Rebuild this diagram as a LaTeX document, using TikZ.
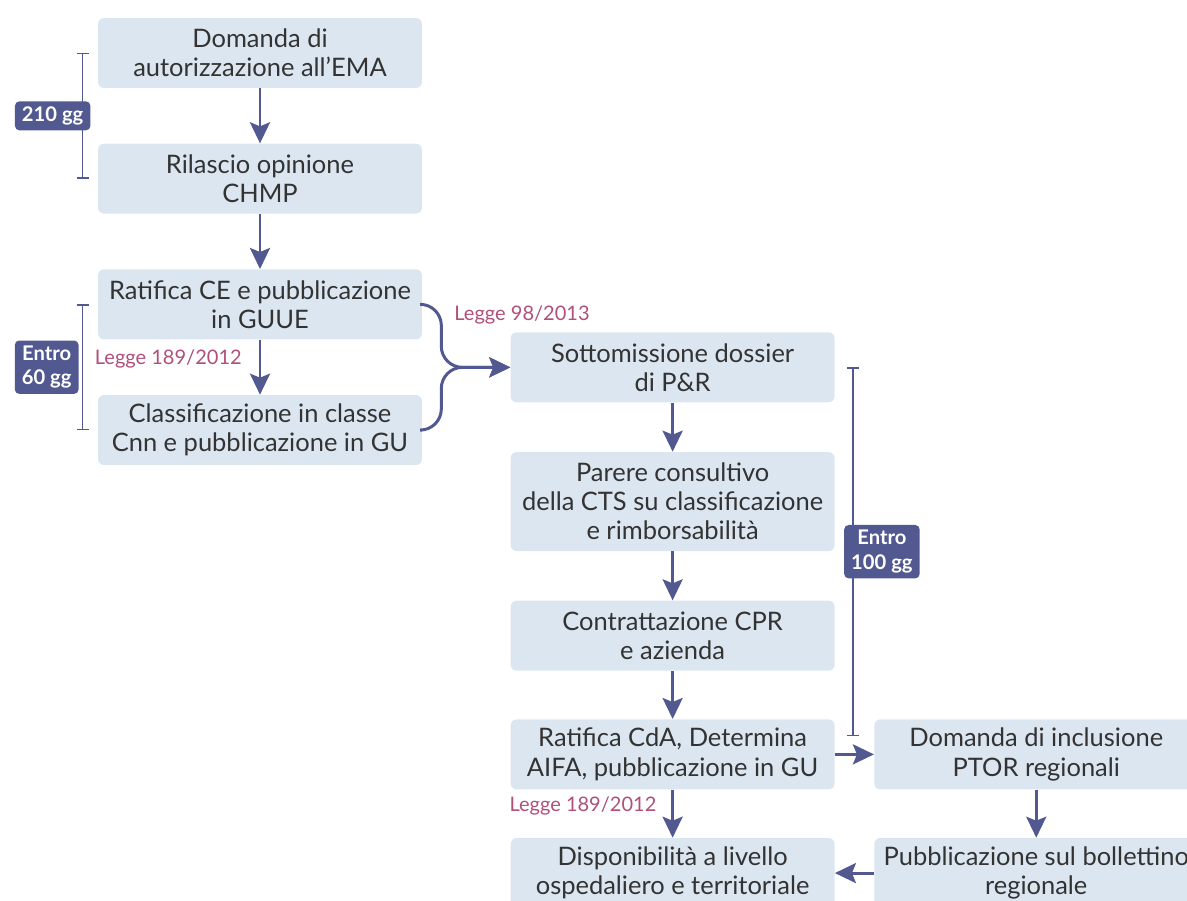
\documentclass[tikz,border=0pt]{standalone}
\usepackage{fontspec}
\setmainfont{Lato}
\usepackage{xcolor}
\definecolor{cBox}{HTML}{DCE6F0}
\definecolor{cLine}{HTML}{525890}
\definecolor{cText}{HTML}{333333}
\definecolor{cLaw}{HTML}{B0507A}
\usetikzlibrary{positioning,arrows.meta,calc}
\tikzset{
  node-step/.style={fill=cBox,rounded corners=3.4pt,minimum width=6.48cm,
    minimum height=1.4cm,inner sep=2pt,align=center,text=cText,
    font=\fontsize{14.5}{16.6}\selectfont},
  node-badge/.style={fill=cLine,rounded corners=2.5pt,text=white,align=center,
    inner xsep=4pt,inner ysep=3pt,font=\bfseries\fontsize{11.5}{14}\selectfont},
  node-law/.style={text=cLaw,inner sep=1pt,font=\fontsize{11.4}{12}\selectfont},
  arrow/.style={-{Stealth[length=4.2mm,width=4mm,inset=0.8mm]},line width=1.7pt,draw=cLine},
  span-bar/.style={{Bar[width=2.4mm]}-{Bar[width=2.4mm]},line width=0.8pt,draw=cLine},
}
\begin{document}
\begin{tikzpicture}[x=0.02cm,y=-0.02cm]
  \useasboundingbox (0,0) rectangle (1187,900);
  \clip (0,0) rectangle (1187,900);
  % colonna EMA / CE
  \node[node-step] (ema) at (260,53) {Domanda di\\autorizzazione all’EMA};
  \node[node-step,below=1.1cm of ema] (chmp) {Rilascio opinione\\CHMP};
  \node[node-step,below=1.1cm of chmp] (guue) {Ratifica CE e pubblicazione\\in GUUE};
  \node[node-step,below=1.1cm of guue] (cnn) {Classificazione in classe\\Cnn e pubblicazione in GU};
  % colonna AIFA
  \node[node-step,right=1.76cm of guue,yshift=-1.26cm] (dossier) {Sottomissione dossier\\di P\&R};
  \node[node-step,below=0.98cm of dossier,minimum height=1.98cm] (cts)
    {Parere consultivo\\della CTS su classificazione\\e rimborsabilità};
  \node[node-step,below=0.98cm of cts] (cpr) {Contrattazione CPR\\e azienda};
  \node[node-step,below=0.96cm of cpr] (cda) {Ratifica CdA, Determina\\AIFA, pubblicazione in GU};
  \node[node-step,below=0.96cm of cda] (disp) {Disponibilità a livello\\ospedaliero e territoriale};
  % colonna regioni
  \node[node-step,right=0.78cm of cda] (ptor) {Domanda di inclusione\\PTOR regionali};
  \node[node-step,below=0.96cm of ptor] (boll) {Pubblicazione sul bollettino\\regionale};

  \draw[arrow] (ema) -- (chmp);
  \draw[arrow] (chmp) -- (guue);
  \draw[arrow] (guue) -- node[node-law,left=0.3cm,pos=0.35]{Legge 189/2012} (cnn);
  \draw[arrow,rounded corners=12pt] (guue.east) -- ++(19,0) |- (dossier.west);
  \draw[arrow,rounded corners=12pt] (cnn.east) -- ++(19,0) |- (dossier.west);
  \node[node-law,anchor=west] (l98) at ([xshift=0.6cm,yshift=-0.22cm]guue.east) {Legge 98/2013};
  \draw[arrow] (dossier) -- (cts);
  \draw[arrow] (cts) -- (cpr);
  \draw[arrow] (cpr) -- (cda);
  \draw[arrow] (cda) -- node[node-law,left=0.26cm,pos=0.33]{Legge 189/2012} (disp);
  \draw[arrow] (cda) -- (ptor);
  \draw[arrow] (ptor) -- (boll);
  \draw[arrow] (boll) -- (disp);

  % intervalli di tempo
  \coordinate (t1a) at ([xshift=-0.3cm]ema.west);
  \coordinate (t1b) at ([xshift=-0.3cm]chmp.west);
  \coordinate (t2a) at ([xshift=-0.3cm]guue.west);
  \coordinate (t2b) at ([xshift=-0.3cm]cnn.west);
  \coordinate (t3a) at ([xshift=0.36cm]dossier.east);
  \coordinate (t3b) at ([xshift=0.36cm,yshift=-0.34cm]cda.north east);
  \draw[span-bar] (t1a) -- node[node-badge,xshift=-0.6cm] (g210) {210 gg} (t1b);
  \draw[span-bar] (t2a) -- node[node-badge,xshift=-0.72cm] (g60) {Entro\\60 gg} (t2b);
  \draw[span-bar] (t3a) -- node[node-badge,xshift=0.58cm] (g100) {Entro\\100 gg} (t3b);
\end{tikzpicture}
\end{document}
